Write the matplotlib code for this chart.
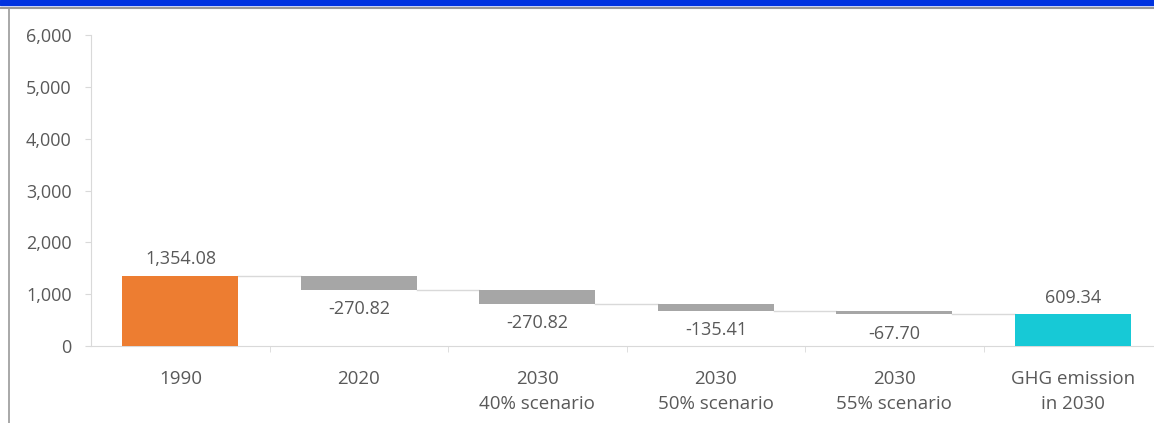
import matplotlib.pyplot as plt
from matplotlib.patches import Rectangle
from matplotlib.lines import Line2D

plt.rcParams['font.family'] = ['Open Sans', 'DejaVu Sans']

categories = ['1990', '2020', '2030\n40% scenario', '2030\n50% scenario',
              '2030\n55% scenario', 'GHG emission\nin 2030']
changes = [1354.08, -270.82, -270.82, -135.41, -67.70]
final_total = 609.34
labels = ['1,354.08', '-270.82', '-270.82', '-135.41', '-67.70', '609.34']

fig = plt.figure(figsize=(11.54, 4.23), dpi=100)
ax = fig.add_axes([0.079, 0.182, 0.928, 0.735])

text_c = '#595959'
x = list(range(len(categories)))
w = 0.65

# running totals for the waterfall
bottoms, heights, cols = [], [], []
level = 0
for i, c in enumerate(changes):
    if i == 0:
        bottoms.append(0)
        heights.append(c)
        cols.append('#ED7D31')
    else:
        bottoms.append(level + c)
        heights.append(-c)
        cols.append('#A6A6A6')
    level += c
bottoms.append(0)
heights.append(final_total)
cols.append('#17C9D6')

ax.bar(x, heights, bottom=bottoms, width=w, color=cols, zorder=3)

# connectors
level = 0
for i, c in enumerate(changes):
    level += c
    ax.plot([x[i] + w / 2, x[i + 1] - w / 2], [level, level],
            color='#D9D9D9', lw=1, zorder=2)

# value labels
for i in range(len(categories)):
    if i == 0 or i == len(categories) - 1:
        ax.text(x[i], bottoms[i] + heights[i] + 150, labels[i], ha='center',
                va='bottom', fontsize=13, color=text_c)
    else:
        ax.text(x[i], bottoms[i] - 200, labels[i], ha='center', va='top',
                fontsize=13, color=text_c)

ax.set_xlim(-0.5, 5.5)
ax.set_ylim(0, 6000)
ax.set_yticks(range(0, 6001, 1000))
ax.set_yticklabels(['0', '1,000', '2,000', '3,000', '4,000', '5,000', '6,000'])
ax.set_xticks(x)
ax.set_xticklabels(categories, linespacing=1.5)
ax.set_xticks([i + 0.5 for i in range(5)], minor=True)
ax.tick_params(axis='x', which='major', length=0, pad=17, labelsize=13.5,
               labelcolor=text_c)
ax.tick_params(axis='x', which='minor', length=4, color='#D9D9D9')
ax.tick_params(axis='y', length=4, color='#D9D9D9', labelsize=13,
               labelcolor=text_c, pad=10)
for s in ['top', 'right']:
    ax.spines[s].set_visible(False)
ax.spines['left'].set_color('#D9D9D9')
ax.spines['bottom'].set_color('#D9D9D9')

# screenshot frame bits
fig.add_artist(Rectangle((0, 0.989), 1, 0.011, transform=fig.transFigure,
                         color='#0033E0', zorder=10))
fig.add_artist(Line2D([0, 1], [0.981, 0.981], transform=fig.transFigure,
                      color='#9a9a9a', lw=1.5))
fig.add_artist(Line2D([0.0075, 0.0075], [0, 0.981], transform=fig.transFigure,
                      color='#9a9a9a', lw=1.2))

fig.savefig('out.png', dpi=100)
